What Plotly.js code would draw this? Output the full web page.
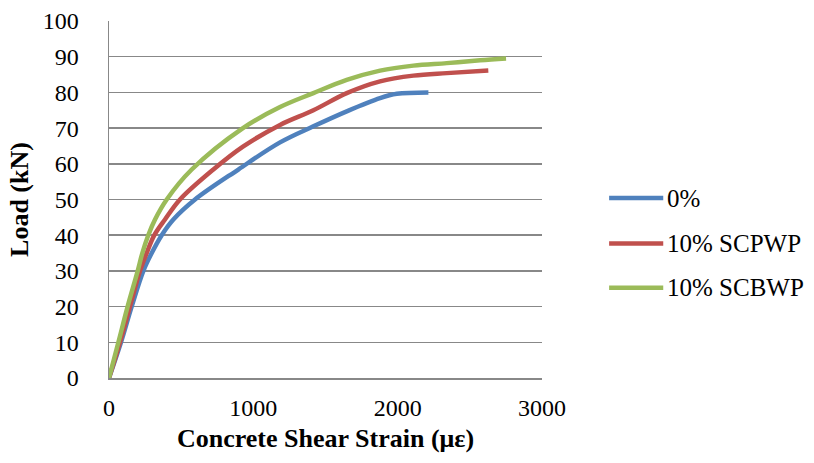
<!DOCTYPE html>
<html>
<head>
<meta charset="utf-8">
<script src="https://cdn.plot.ly/plotly-3.0.1.min.js"></script>
<style>html,body{margin:0;padding:0;background:#fff;}</style>
</head>
<body>
<div id="chart" style="width:814px;height:463px;"></div>
<script>
const seriesNames = ["0%", "10% SCPWP", "10% SCBWP"];
const strain0 = [0, 83, 157, 238, 296, 365, 446, 596, 896, 1185, 1416, 1647, 1878, 1994, 2213];
const load0   = [0, 10, 20, 30, 35, 40, 44.4, 50, 58.4, 66, 70.5, 74.7, 78.4, 79.6, 80];
const strainP = [0, 76, 145, 215, 261, 314, 388, 492, 723, 928, 1185, 1416, 1647, 1878, 2109, 2340, 2628];
const loadP   = [0, 10, 20, 30, 35, 40, 44.4, 50, 58.4, 64.8, 70.9, 75, 79.8, 83.1, 84.7, 85.4, 86.1];
const strainB = [0, 65, 129, 199, 231, 272, 319, 400, 573, 928, 1185, 1416, 1647, 1878, 2109, 2340, 2571, 2751];
const loadB   = [0, 10, 20, 30, 35, 40, 44.4, 50, 58.4, 70, 75.9, 79.8, 83.5, 86.1, 87.5, 88.2, 89, 89.5];
const xTicks = [0, 1000, 2000, 3000];
const yTicks = [0, 10, 20, 30, 40, 50, 60, 70, 80, 90, 100];
const colors = ["#4F81BD", "#C0504D", "#9BBB59"];

const xs = [strain0, strainP, strainB];
const ys = [load0, loadP, loadB];
const traces = seriesNames.map((n, i) => ({
  x: xs[i], y: ys[i], name: n, type: "scatter", mode: "lines",
  line: {color: colors[i], width: 4.5, shape: "spline", smoothing: 1},
  hoverinfo: "skip"
}));

const font = "Liberation Serif";
// manual legend (paper coordinates)
const legY = [0.504, 0.377, 0.253];
const shapes = seriesNames.map((n, i) => ({
  type: "line", xref: "paper", yref: "paper",
  x0: 1.155, x1: 1.28, y0: legY[i], y1: legY[i],
  line: {color: colors[i], width: 4.5}
}));
const annotations = seriesNames.map((n, i) => ({
  xref: "paper", yref: "paper", x: 1.285, y: legY[i],
  xanchor: "left", yanchor: "middle", showarrow: false,
  text: n, font: {family: font, size: 25, color: "#000"}
}));

const layout = {
  width: 814, height: 463,
  margin: {l: 109, r: 272, t: 21, b: 85},
  paper_bgcolor: "#fff", plot_bgcolor: "#fff",
  font: {family: font, size: 24, color: "#000"},
  showlegend: false,
  shapes: shapes,
  annotations: annotations,
  xaxis: {
    range: [0, 3000], tickvals: xTicks, ticks: "", showgrid: false,
    zeroline: false, showline: true, linecolor: "#888", linewidth: 1.5,
    tickfont: {family: font, size: 24}, ticklabelstandoff: 8,
    title: {text: "<b>Concrete Shear Strain (με)</b>", font: {family: font, size: 26}, standoff: 8}
  },
  yaxis: {
    range: [0, 100], tickvals: yTicks, ticks: "",
    showgrid: true, gridcolor: "#888", gridwidth: 1.5,
    zeroline: false, showline: true, linecolor: "#888", linewidth: 1.5,
    tickfont: {family: font, size: 24}, ticklabelstandoff: 24,
    title: {text: "<b>Load (kN)</b>", font: {family: font, size: 26}, standoff: 6}
  }
};
Plotly.newPlot("chart", traces, layout, {staticPlot: true});
</script>
</body>
</html>
